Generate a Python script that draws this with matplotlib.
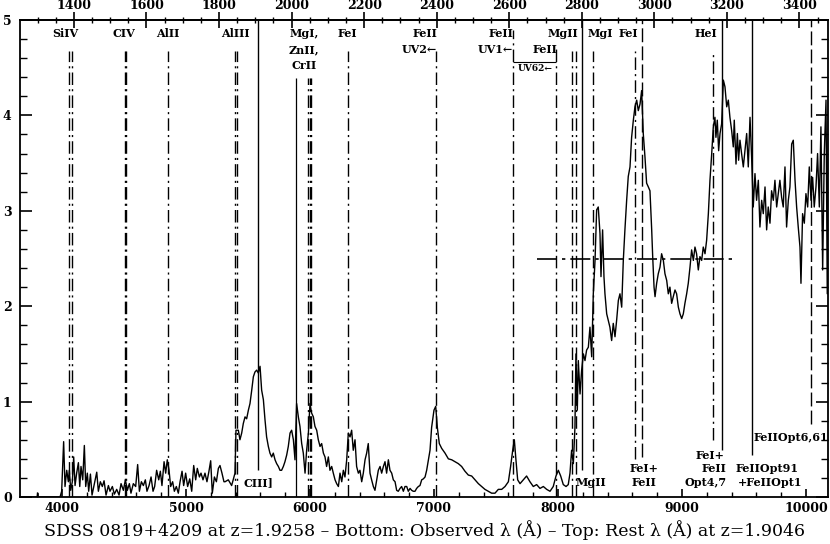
import numpy as np
import matplotlib
matplotlib.use('Agg')
import matplotlib.pyplot as plt
from matplotlib.ticker import MultipleLocator, FixedLocator

plt.rcParams['font.family'] = ['DejaVu Serif', 'DejaVu Sans']

z_em = 1.9258
z_abs = 1.9046

# spectrum, in pieces (observed wavelength, flux)
wave_start = [3661, 3800, 3804, 3808, 3975]
flux_start = [0.0, 0.0, 0.04, 0.0, 0.0]

wave_blue = [3984, 3997, 4013, 4024, 4038, 4051, 4059, 4070, 4083, 4094, 4105, 4118, 4132, 4143, 4153,
             4167, 4180, 4191, 4204, 4215, 4229, 4242, 4258, 4280, 4293, 4309, 4325, 4339, 4355, 4374,
             4387, 4406, 4422, 4441, 4460, 4476, 4495, 4511, 4527, 4543, 4556, 4575, 4594, 4610, 4624,
             4640, 4656, 4672, 4685, 4702, 4718, 4734, 4747, 4763, 4780, 4793, 4806, 4823, 4836, 4849,
             4863, 4876, 4892, 4906, 4922, 4938, 4952, 4968, 4981, 4997, 5013, 5030, 5046, 5062, 5078,
             5091, 5108, 5121, 5137, 5153, 5169, 5185, 5199, 5212, 5229, 5245, 5261, 5274, 5290, 5306]
flux_blue = [0.0, 0.06, 0.58, 0.11, 0.28, 0.16, 0.28, 0.07, 0.16, 0.42, 0.12, 0.25, 0.36, 0.11, 0.32,
             0.18, 0.54, 0.11, 0.25, 0.06, 0.24, 0.02, 0.12, 0.26, 0.06, 0.16, 0.11, 0.17, 0.02, 0.12,
             0.06, 0.11, 0.03, 0.08, 0.02, 0.14, 0.07, 0.18, 0.07, 0.14, 0.04, 0.14, 0.11, 0.34, 0.06,
             0.16, 0.12, 0.18, 0.06, 0.12, 0.21, 0.06, 0.11, 0.28, 0.18, 0.27, 0.12, 0.37, 0.25, 0.39,
             0.28, 0.11, 0.16, 0.06, 0.11, 0.04, 0.16, 0.27, 0.12, 0.25, 0.11, 0.19, 0.06, 0.33, 0.18,
             0.30, 0.21, 0.25, 0.18, 0.25, 0.16, 0.27, 0.38, 0.04, 0.21, 0.16, 0.30, 0.33, 0.25, 0.16]

wave_ciii = [5315, 5341, 5368, 5395, 5403, 5422, 5435, 5449, 5462, 5476, 5489, 5503, 5516, 5530, 5543,
             5556, 5570, 5583, 5597, 5610, 5624, 5637, 5650, 5664, 5677, 5691, 5704, 5718, 5731, 5745,
             5758, 5771, 5785, 5798, 5812, 5825, 5839, 5852, 5866, 5879, 5892, 5906, 5919, 5933, 5946,
             5960, 5973, 5987, 6000, 6013, 6027, 6040, 6054, 6067, 6081, 6094, 6108, 6121, 6134, 6148,
             6161, 6175, 6188, 6202, 6215, 6229, 6242, 6256, 6269, 6282, 6296, 6309, 6323, 6336, 6349,
             6363, 6376, 6390, 6403, 6417, 6430, 6444, 6457, 6470, 6484, 6497, 6511, 6524, 6538, 6551,
             6565, 6578, 6592, 6605, 6618, 6632, 6645, 6659, 6672, 6686, 6699, 6712, 6726, 6739, 6753,
             6766, 6780, 6793, 6807, 6820, 6833, 6847, 6860, 6874, 6887, 6901, 6914, 6928, 6941, 6955]
flux_ciii = [0.16, 0.18, 0.12, 0.25, 0.70, 0.70, 0.60, 0.67, 0.77, 0.84, 0.82, 0.91, 0.98, 1.12, 1.26,
             1.31, 1.33, 1.30, 1.37, 1.12, 1.02, 0.81, 0.63, 0.53, 0.46, 0.42, 0.46, 0.39, 0.35, 0.32,
             0.28, 0.28, 0.32, 0.37, 0.44, 0.53, 0.67, 0.70, 0.60, 0.39, 0.98, 0.84, 0.74, 0.56, 0.46,
             0.25, 0.49, 0.67, 0.98, 0.88, 0.84, 0.74, 0.70, 0.60, 0.53, 0.56, 0.46, 0.42, 0.32, 0.42,
             0.28, 0.32, 0.25, 0.18, 0.14, 0.11, 0.25, 0.16, 0.28, 0.21, 0.39, 0.67, 0.63, 0.70, 0.49,
             0.60, 0.32, 0.25, 0.28, 0.16, 0.25, 0.39, 0.46, 0.56, 0.25, 0.18, 0.11, 0.07, 0.18, 0.28,
             0.32, 0.25, 0.32, 0.37, 0.25, 0.39, 0.28, 0.25, 0.18, 0.16, 0.07, 0.06, 0.09, 0.11, 0.06,
             0.11, 0.11, 0.06, 0.09, 0.07, 0.06, 0.06, 0.09, 0.11, 0.12, 0.18, 0.19, 0.21, 0.28, 0.39]

wave_mid = [6968, 6981, 7000, 7014, 7027, 7043, 7062, 7089, 7116, 7143, 7170, 7196, 7223, 7250, 7277,
            7304, 7331, 7358, 7385, 7411, 7438, 7465, 7492, 7519, 7546, 7573, 7600, 7618, 7635, 7648,
            7661, 7675, 7694, 7721, 7747, 7774, 7801, 7828, 7855, 7882, 7909, 7936, 7962, 7984, 8003,
            8022, 8043, 8065, 8083, 8097, 8110, 8124, 8137, 8145, 8156, 8164, 8178, 8191, 8205, 8218,
            8231, 8245, 8258, 8272, 8285, 8299, 8312, 8325, 8339, 8347, 8360, 8371, 8379, 8393, 8406,
            8419, 8433, 8446, 8460, 8473, 8487, 8500, 8514, 8527, 8540, 8554, 8567]
flux_mid = [0.49, 0.73, 0.91, 0.95, 0.73, 0.56, 0.51, 0.46, 0.40, 0.39, 0.37, 0.35, 0.32, 0.27, 0.23,
            0.22, 0.18, 0.14, 0.11, 0.08, 0.06, 0.04, 0.04, 0.08, 0.08, 0.11, 0.16, 0.32, 0.49, 0.60,
            0.39, 0.18, 0.14, 0.18, 0.22, 0.16, 0.11, 0.13, 0.09, 0.11, 0.08, 0.06, 0.11, 0.22, 0.28,
            0.22, 0.13, 0.11, 0.13, 0.25, 0.49, 0.35, 0.73, 1.50, 0.91, 1.43, 1.08, 1.33, 1.50, 1.43,
            1.54, 1.57, 1.78, 1.47, 2.13, 2.48, 3.01, 3.04, 2.76, 2.31, 2.80, 2.31, 2.13, 1.92, 1.85,
            1.78, 1.64, 1.82, 1.68, 1.85, 2.06, 2.13, 1.99, 2.48, 2.80, 3.11, 3.36]

wave_red = [8581, 8594, 8608, 8621, 8635, 8648, 8662, 8675, 8688, 8702, 8715, 8729, 8742, 8756, 8764,
            8775, 8783, 8796, 8809, 8823, 8836, 8850, 8863, 8877, 8890, 8903, 8917, 8930, 8944, 8957,
            8971, 8984, 8998, 9011, 9024, 9038, 9051, 9065, 9078, 9092, 9105, 9118, 9132, 9145, 9159,
            9172, 9186, 9199, 9213, 9226, 9240, 9253, 9266, 9274, 9285, 9296, 9307, 9320, 9334, 9347,
            9361, 9374, 9387, 9401, 9414, 9422, 9436, 9447, 9457, 9468, 9481, 9495, 9508, 9522, 9535,
            9549, 9562, 9575, 9589, 9602, 9616, 9629, 9643, 9656, 9670, 9683, 9696, 9710, 9723, 9737,
            9750, 9764, 9777, 9790, 9804, 9817, 9831, 9844, 9858, 9871, 9885, 9898, 9912, 9925, 9938,
            9952, 9960, 9973, 9987, 10000, 10014, 10027, 10041, 10054, 10067, 10081, 10094, 10108, 10121, 10135,
            10148, 10162, 10172, 10183]
flux_red = [3.46, 3.77, 3.95, 4.09, 4.16, 4.05, 4.12, 4.26, 3.81, 3.56, 3.29, 3.25, 3.21, 2.80, 2.52,
            2.20, 2.10, 2.24, 2.34, 2.41, 2.55, 2.48, 2.34, 2.27, 2.13, 2.20, 2.03, 2.10, 2.17, 2.13,
            1.99, 1.92, 1.87, 1.92, 2.03, 2.13, 2.24, 2.41, 2.59, 2.48, 2.62, 2.55, 2.38, 2.52, 2.48,
            2.62, 2.55, 2.69, 2.97, 3.32, 3.60, 3.88, 3.98, 3.77, 3.95, 3.63, 3.81, 3.91, 4.37, 4.30,
            4.09, 4.16, 3.98, 3.84, 3.67, 3.95, 3.49, 3.81, 3.53, 3.74, 3.60, 3.46, 3.63, 3.81, 3.46,
            3.98, 3.56, 3.04, 3.39, 3.11, 3.32, 2.83, 3.11, 2.97, 3.25, 2.80, 3.04, 2.87, 3.21, 3.11,
            3.32, 3.04, 3.18, 3.32, 3.14, 3.04, 3.46, 2.83, 3.11, 3.25, 3.70, 3.74, 3.32, 3.04, 2.83,
            2.62, 2.24, 2.97, 2.87, 3.18, 3.04, 3.46, 3.11, 3.35, 3.04, 3.25, 3.60, 3.04, 3.88, 2.38,
            3.60, 4.16, 2.13, 4.40]

wave = np.concatenate([wave_start, wave_blue, wave_ciii, wave_mid, wave_red])
flux = np.concatenate([flux_start, flux_blue, flux_ciii, flux_mid, flux_red])

# absorption lines (labels on top)
abs_lines = [4059, 4083, 4510, 4517, 4852, 5395, 5411, 6304, 7014, 7637, 7988, 8111, 8143, 8285]
abs_top = [4.68, 4.68, 4.68, 4.68, 4.68, 4.68, 4.68, 4.68, 4.68, 4.9, 4.72, 4.68, 4.68, 4.68]
mgzncr_solid = [5885]
mgzncr_dash = [5985, 5998, 6012]
# emission lines (labels at bottom)
em_solid = [5581, 8191, 9320, 9562]
em_solid_bottom = [0.28, 0.28, 0.49, 0.44]
em_dash = [8675, 10040]
em_dash_bottom = [0.42, 0.77]

top_ticks = [1400, 1600, 1800, 2000, 2200, 2400, 2600, 2800, 3000, 3200, 3400]
bottom_ticks = [4000, 5000, 6000, 7000, 8000, 9000, 10000]
y_ticks = [0, 1, 2, 3, 4, 5]

top_labels = [('SiIV', 4024, 4.86, 'center'), ('CIV', 4500, 4.86, 'center'), ('AlII', 4855, 4.86, 'center'),
              ('AlIII', 5395, 4.86, 'center'), ('MgI,', 5952, 4.86, 'center'), ('ZnII,', 5952, 4.69, 'center'),
              ('CrII', 5952, 4.52, 'center'), ('FeI', 6298, 4.86, 'center'), ('FeII', 7024, 4.86, 'right'),
              ('UV2\u2190', 7024, 4.69, 'right'), ('FeII', 7637, 4.86, 'right'), ('UV1\u2190', 7637, 4.69, 'right'),
              ('FeII', 7992, 4.69, 'right'), ('MgII', 8040, 4.86, 'center'), ('MgI', 8339, 4.86, 'center'),
              ('FeI', 8565, 4.86, 'center'), ('HeI', 9194, 4.86, 'center')]
bottom_labels = [('CIII]', 5581, 0.15), ('MgII', 8266, 0.15), ('FeI+', 8694, 0.30), ('FeII', 8694, 0.15),
                 ('FeI+', 9226, 0.44), ('FeII', 9258, 0.30), ('Opt4,7', 9194, 0.15),
                 ('FeIIOpt91', 9686, 0.30), ('+FeIIOpt1', 9710, 0.15), ('FeIIOpt6,61', 9879, 0.62)]

fig = plt.figure(figsize=(8.3, 5.44), dpi=100)
ax = fig.add_axes([20 / 830, 47 / 544, 808 / 830, 477 / 544])

ax.plot(wave, flux, color='black', lw=1.0)

dashdot = (0, (9, 3, 1.5, 3))
ax.vlines(abs_lines, 0, abs_top, colors='black', linestyles=[dashdot], lw=1)
ax.vlines(8621, 0.40, 4.68, colors='black', linestyles=[dashdot], lw=1)
ax.vlines(9253, 0.60, 4.68, colors='black', linestyles=[dashdot], lw=1)
ax.vlines(mgzncr_solid, 0, 4.39, colors='black', lw=0.9)
ax.vlines(mgzncr_dash, 0, 4.39, colors='black', linestyles=[dashdot], lw=1)
ax.vlines(em_solid, em_solid_bottom, 5, colors='black', lw=1)
ax.vlines(em_dash, em_dash_bottom, 5, colors='black', linestyles=[(0, (10, 3))], lw=1)
ax.hlines(4.555, 7637, 7988, colors='black', lw=0.8)
ax.hlines(2.5, 7828, 9441, colors='black', linestyles=[(0, (12, 3, 2, 3))], lw=1.2)

for txt, x, y, ha in top_labels:
    ax.text(x, y, txt, ha=ha, va='center', fontsize=8, fontweight='bold')
ax.text(7960, 4.49, 'UV62\u2190', ha='right', va='center', fontsize=6.5, fontweight='bold')
for txt, x, y in bottom_labels:
    ax.text(x, y, txt, ha='center', va='center', fontsize=8, fontweight='bold')

ax.set_xlim(3661, 10178)
ax.set_ylim(0, 5)
ax.xaxis.set_major_locator(FixedLocator(bottom_ticks))
ax.xaxis.set_minor_locator(MultipleLocator(200))
ax.yaxis.set_major_locator(FixedLocator(y_ticks))
ax.yaxis.set_minor_locator(MultipleLocator(0.2))
ax.tick_params(axis='x', which='both', direction='in', top=False, bottom=True)
ax.tick_params(axis='x', which='major', length=6, width=1.2, labelsize=9)
ax.tick_params(axis='x', which='minor', length=3.5, width=1)
ax.tick_params(axis='y', which='both', direction='in', left=True, right=True)
ax.tick_params(axis='y', which='major', length=8.6, width=1.2, labelsize=9, pad=6)
ax.tick_params(axis='y', which='minor', length=5, width=1)
for lab in ax.get_xticklabels() + ax.get_yticklabels():
    lab.set_fontweight('bold')
for sp in ax.spines.values():
    sp.set_linewidth(1.3)

top = ax.secondary_xaxis('top', functions=(lambda w: w / (1 + z_em), lambda r: r * (1 + z_em)))
top.xaxis.set_major_locator(FixedLocator(top_ticks))
top.xaxis.set_minor_locator(MultipleLocator(50))
top.tick_params(which='major', direction='inout', length=12, width=1.2, labelsize=9, pad=0)
top.tick_params(which='minor', direction='inout', length=5, width=1)
for lab in top.get_xticklabels():
    lab.set_fontweight('bold')
top.spines['top'].set_linewidth(1.3)

fig.text(424 / 830, 1 - 530 / 544,
         'SDSS 0819+4209 at z=1.9258 \u2013 Bottom: Observed \u03bb (\u00c5) \u2013 Top: Rest \u03bb (\u00c5) at z=1.9046',
         ha='center', va='center', fontsize=12.5)

fig.savefig('out.png', dpi=100)
